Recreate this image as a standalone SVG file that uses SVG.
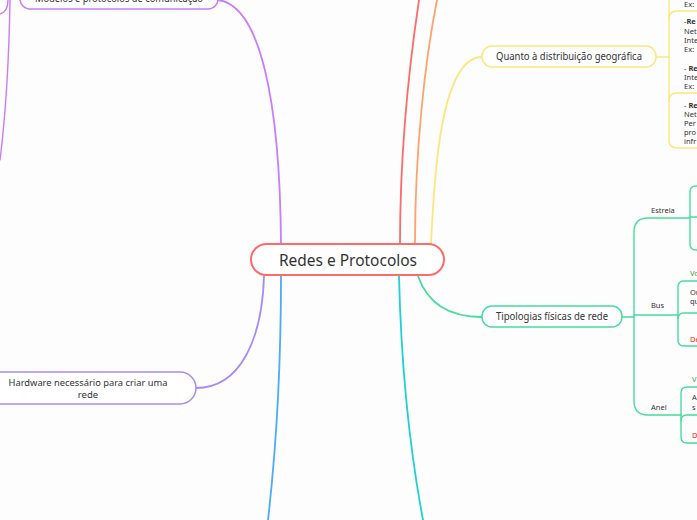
<svg xmlns="http://www.w3.org/2000/svg" width="697" height="520" viewBox="0 0 697 520">
<style>
.t{font-family:"Noto Sans","DejaVu Sans",sans-serif;fill:#333}
.s{font-size:7.5px}
.c{fill:none;stroke-linecap:round}
.node{fill:#fff}
</style>
<rect x="0" y="0" width="697" height="520" fill="#fdfdfd"/>
<g id="connectors" class="c">
  <path d="M400,244 C400,150 410,60 419,0" stroke="#ff6b6b" stroke-width="1.8"/>
  <path d="M415,244 C415,150 425,60 437,0" stroke="#ffa36c" stroke-width="1.8"/>
  <path d="M431,244 C434,180 440,57 482,57" stroke="#fbe77e" stroke-width="1.8"/>
  <path d="M281,244 C280,100 260,5 218,0" stroke="#c77dff" stroke-width="1.8"/>
  <path d="M264,276 C262,340 240,388 196,388" stroke="#a78bfa" stroke-width="1.8"/>
  <path d="M281,276 C281,380 276,450 268,520" stroke="#4dabf7" stroke-width="1.8"/>
  <path d="M399,276 C401,360 408,440 423,520" stroke="#1fd1d6" stroke-width="1.8"/>
  <path d="M418,276 C428,305 450,317 482,317" stroke="#47dca0" stroke-width="1.8"/>
  <path d="M10,0 C9,60 5,120 0,160" stroke="#c77dff" stroke-width="1.4"/>
  <path d="M0,14 Q8,12 8,0" stroke="#c77dff" stroke-width="1.4"/>
  <path d="M656,57 H669" stroke="#fbe77e" stroke-width="1.5"/>
  <path d="M669,0 V140 Q669,148 677,148 H697" stroke="#fbe77e" stroke-width="1.4"/>
  <path d="M669,19 Q669,11 677,11 H697" stroke="#fbe77e" stroke-width="1.4"/>
  <path d="M669,101 Q669,93 677,93 H697" stroke="#fbe77e" stroke-width="1.4"/>
  <path d="M622,317 H634" stroke="#47dca0" stroke-width="1.5"/>
  <path d="M690,218 H648 Q634,218 634,232 V401 Q634,415 648,415 H681" stroke="#47dca0" stroke-width="1.4"/>
  <path d="M634,315 H678" stroke="#47dca0" stroke-width="1.4"/>
  <path d="M697,186 H696 Q690,186 690,192 V244 Q690,250 696,250 H697" stroke="#47dca0" stroke-width="1.4"/>
  <path d="M690,217 H697" stroke="#47dca0" stroke-width="1.4"/>
  <path d="M697,281 H684 Q678,281 678,287 V340 Q678,346 684,346 H697" stroke="#47dca0" stroke-width="1.4"/>
  <path d="M678,319 Q678,313 684,313 H697" stroke="#47dca0" stroke-width="1.4"/>
  <path d="M697,387 H687 Q681,387 681,393 V437 Q681,443 687,443 H697" stroke="#47dca0" stroke-width="1.4"/>
  <path d="M681,421 Q681,415 687,415 H697" stroke="#47dca0" stroke-width="1.4"/>
</g>
<g id="central">
  <rect class="node" x="251" y="244" width="193" height="31" rx="15.5" stroke="#ff6b6b" stroke-width="2"/>
  <text class="t" x="348" y="266" font-size="15.5" text-anchor="middle" textLength="138" lengthAdjust="spacingAndGlyphs">Redes e Protocolos</text>
</g>
<g id="modelos">
  <rect class="node" x="20" y="-25" width="198" height="34" rx="10" stroke="#c77dff" stroke-width="1.5"/>
  <text class="t" x="119" y="1.5" font-size="10" text-anchor="middle" textLength="168" lengthAdjust="spacingAndGlyphs">Modelos e protocolos de comunicação</text>
</g>
<g id="hardware">
  <rect class="node" x="-30" y="372" width="226" height="32" rx="16" stroke="#a78bfa" stroke-width="1.5"/>
  <text class="t" x="88" y="385.5" font-size="9.5" text-anchor="middle" textLength="159" lengthAdjust="spacingAndGlyphs">Hardware necessário para criar uma</text>
  <text class="t" x="88" y="398" font-size="9.5" text-anchor="middle">rede</text>
</g>
<g id="quanto">
  <rect class="node" x="482" y="46" width="174" height="21" rx="10" stroke="#fbe77e" stroke-width="1.5"/>
  <text class="t" x="569" y="60" font-size="10" text-anchor="middle" textLength="146" lengthAdjust="spacingAndGlyphs">Quanto à distribuição geográfica</text>
</g>
<g id="quanto-children">
  <text class="t s" x="684" y="7">Ex:</text>
  <text class="t s" x="684" y="24">-<tspan font-weight="bold">Re</tspan></text>
  <text class="t s" x="684" y="33.5">Net</text>
  <text class="t s" x="684" y="42.5">Inte</text>
  <text class="t s" x="684" y="51.5">Ex:</text>
  <text class="t s" x="684" y="70.5">- <tspan font-weight="bold">Re</tspan></text>
  <text class="t s" x="684" y="79.5">Inte</text>
  <text class="t s" x="684" y="88.5">Ex:</text>
  <text class="t s" x="684" y="107.5">- <tspan font-weight="bold">Re</tspan></text>
  <text class="t s" x="684" y="116.5">Net</text>
  <text class="t s" x="684" y="125.5">Per</text>
  <text class="t s" x="684" y="134.5">pro</text>
  <text class="t s" x="684" y="143.5">infr</text>
</g>
<g id="tipologias">
  <rect class="node" x="482" y="306" width="140" height="21" rx="10" stroke="#47dca0" stroke-width="1.5"/>
  <text class="t" x="552" y="320" font-size="10" text-anchor="middle" textLength="112" lengthAdjust="spacingAndGlyphs">Tipologias físicas de rede</text>
</g>
<g id="estrela">
  <text class="t s" x="651" y="213">Estrela</text>
</g>
<g id="bus">
  <text class="t s" x="651" y="308">Bus</text>
  <text class="t s" x="690" y="275.5" style="fill:#3aa335">Vo</text>
  <text class="t s" x="690" y="295">Or</text>
  <text class="t s" x="690" y="303.5">qu</text>
  <text class="t s" x="690" y="341.5" style="fill:#ee2222">De</text>
</g>
<g id="anel">
  <text class="t s" x="651" y="410">Anel</text>
  <text class="t s" x="692" y="381.5" style="fill:#3aa335">V</text>
  <text class="t s" x="692" y="400">A</text>
  <text class="t s" x="692" y="410">s</text>
  <text class="t s" x="692" y="438" style="fill:#ee2222">D</text>
</g>
</svg>
